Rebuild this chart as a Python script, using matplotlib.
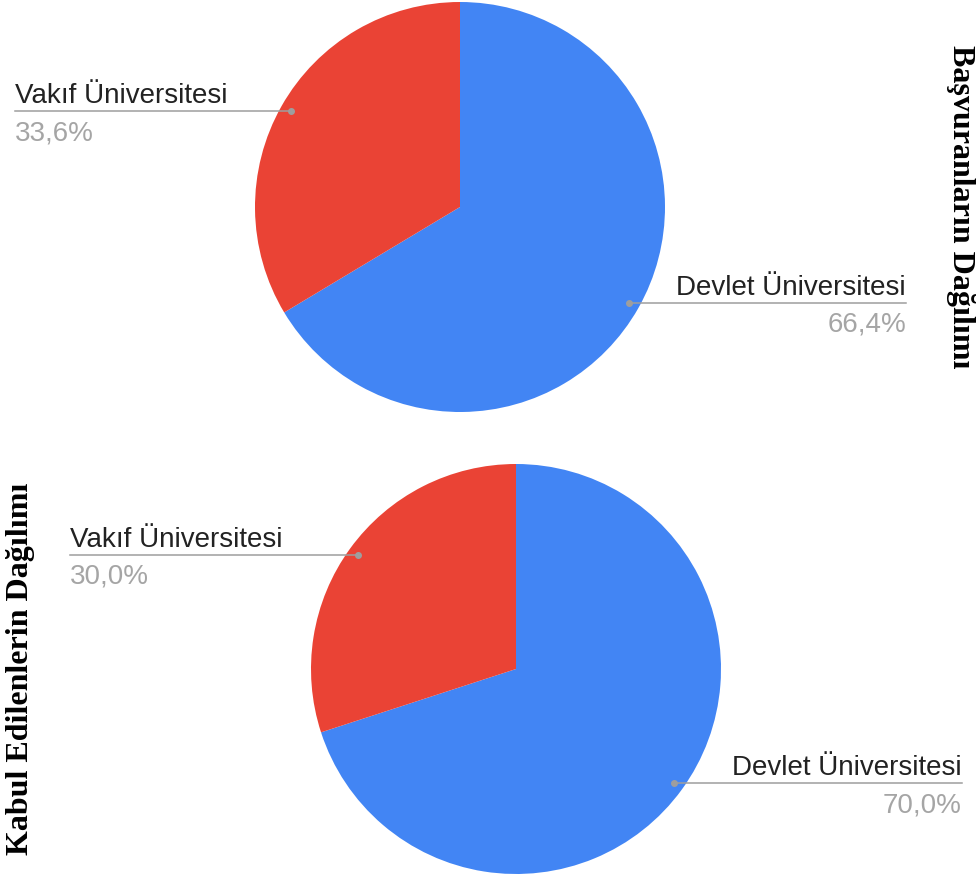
import matplotlib
matplotlib.use("Agg")
import matplotlib.pyplot as plt
import numpy as np

# Data
categories = ["Devlet Üniversitesi", "Vakıf Üniversitesi"]
applicants = [66.4, 33.6]
accepted = [70.0, 30.0]
titles = ["Başvuranların Dağılımı", "Kabul Edilenlerin Dağılımı"]
colors = ["#4285F4", "#EA4335"]

W, H = 976, 879
fig = plt.figure(figsize=(W / 100, H / 100), dpi=100)
ax = fig.add_axes([0, 0, 1, 1])
ax.set_xlim(0, W)
ax.set_ylim(0, H)
ax.set_aspect("equal")
ax.axis("off")

def py(y):
    return H - y

label_font = dict(family=["Liberation Sans", "DejaVu Sans"], fontsize=20)
line_col = "#9E9E9E"

def draw_pie(values, cx, cy, r, left_x, right_x):
    wedges, _ = ax.pie(values, colors=colors, startangle=90, counterclock=False,
                       center=(cx, py(cy)), radius=r, frame=True,
                       wedgeprops=dict(linewidth=0))
    for w, name, v in zip(wedges, categories, values):
        mid = np.deg2rad((w.theta1 + w.theta2) / 2)
        dx = cx + 0.95 * r * np.cos(mid)
        dy = py(cy) + 0.95 * r * np.sin(mid)
        if np.cos(mid) < 0:
            tx, ha = left_x, "left"
        else:
            tx, ha = right_x, "right"
        ax.plot([dx, tx], [dy, dy], color=line_col, lw=1.1, zorder=3)
        ax.plot([dx], [dy], "o", color=line_col, ms=4, zorder=4)
        ax.text(tx, dy + 9, name, ha=ha, va="baseline", color="#222222", **label_font)
        pct = f"{v:.1f}".replace(".", ",") + "%"
        ax.text(tx, dy - 28, pct, ha=ha, va="baseline", color="#A5A5A5", **label_font)

draw_pie(applicants, 460, 208, 205, 15, 906)
draw_pie(accepted, 516, 670, 205, 70, 962)
ax.set_xlim(0, W)
ax.set_ylim(0, H)
ax.axis("off")

title_font = dict(family=["Liberation Serif", "DejaVu Serif"], fontsize=23, fontweight="bold")
ax.text(960, py(207), titles[0], rotation=-90, ha="center", va="center", color="black", **title_font)
ax.text(20, py(669), titles[1], rotation=90, ha="center", va="center", color="black", **title_font)

fig.savefig("out.png", dpi=100, facecolor="white")
